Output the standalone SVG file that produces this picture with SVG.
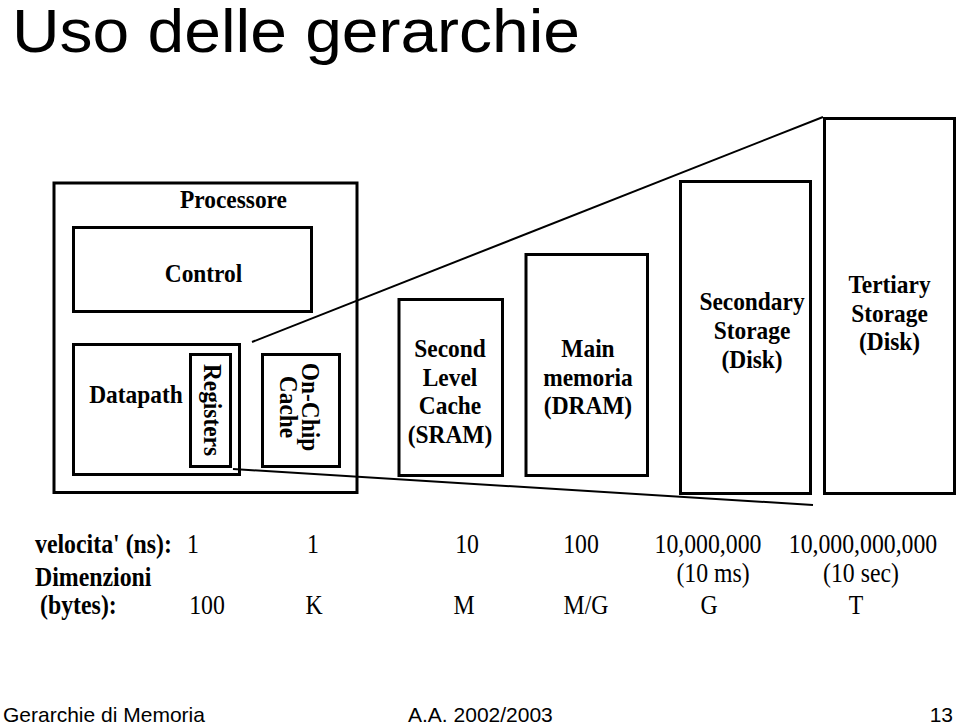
<svg xmlns="http://www.w3.org/2000/svg" width="960" height="725" viewBox="0 0 960 725">
<style>
.box{fill:none;stroke:#000;stroke-width:3}
.ln{stroke:#000;stroke-width:2;fill:none}
.lb{font-family:"Liberation Serif","Times New Roman",serif;font-weight:bold;font-size:26px;fill:#000;text-anchor:middle}
.bb{font-family:"Liberation Serif","Times New Roman",serif;font-weight:bold;font-size:26.5px;fill:#000}
.nr{font-family:"Liberation Serif","Times New Roman",serif;font-size:27px;fill:#000;text-anchor:middle}
.ar{font-family:"Liberation Sans",Arial,sans-serif;fill:#000}
</style>
<rect width="960" height="725" fill="#fff"/>
<text class="ar" x="12" y="52" font-size="62" textLength="568" lengthAdjust="spacingAndGlyphs">Uso delle gerarchie</text>

<g id="connectors">
<line class="ln" x1="252" y1="342" x2="823" y2="117"/>
<line class="ln" x1="233" y1="469" x2="813" y2="505"/>
</g>

<g id="processore">
<rect class="box" x="54" y="183" width="303" height="309.5"/>
<text class="lb" transform="translate(233.5,208) scale(0.9,1)">Processore</text>
</g>
<g id="control">
<rect class="box" x="73.5" y="227.5" width="238" height="84"/>
<text class="lb" transform="translate(203.5,282) scale(0.9,1)">Control</text>
</g>
<g id="datapath">
<rect class="box" x="73.5" y="344.5" width="166" height="130"/>
<text class="lb" transform="translate(136,403) scale(0.9,1)">Datapath</text>
</g>
<g id="registers">
<rect class="box" x="190.5" y="354.5" width="40" height="112"/>
<text class="lb" transform="translate(203.5,410) rotate(90) scale(0.9,1)">Registers</text>
</g>
<g id="onchip">
<rect class="box" x="262.5" y="354.5" width="77" height="112"/>
<text class="lb" transform="translate(302,407) rotate(90) scale(0.9,1)">On-Chip</text>
<text class="lb" transform="translate(280,407) rotate(90) scale(0.9,1)">Cache</text>
</g>
<g id="second">
<rect class="box" x="399" y="299.5" width="103.5" height="176"/>
<text class="lb" transform="translate(450,357) scale(0.9,1)">Second</text>
<text class="lb" transform="translate(450,385.5) scale(0.9,1)">Level</text>
<text class="lb" transform="translate(450,414) scale(0.9,1)">Cache</text>
<text class="lb" transform="translate(450,442.5) scale(0.9,1)">(SRAM)</text>
</g>
<g id="main">
<rect class="box" x="526" y="254.5" width="121.5" height="221"/>
<text class="lb" transform="translate(588,357) scale(0.9,1)">Main</text>
<text class="lb" transform="translate(588,385.5) scale(0.9,1)">memoria</text>
<text class="lb" transform="translate(588,414) scale(0.9,1)">(DRAM)</text>
</g>
<g id="secondary">
<rect class="box" x="680.5" y="181.5" width="130" height="312"/>
<text class="lb" transform="translate(752,310) scale(0.9,1)">Secondary</text>
<text class="lb" transform="translate(752,339) scale(0.9,1)">Storage</text>
<text class="lb" transform="translate(752,368) scale(0.9,1)">(Disk)</text>
</g>
<g id="tertiary">
<rect class="box" x="824.5" y="118.5" width="130" height="375"/>
<text class="lb" transform="translate(889.5,293) scale(0.9,1)">Tertiary</text>
<text class="lb" transform="translate(889.5,322) scale(0.9,1)">Storage</text>
<text class="lb" transform="translate(889.5,350) scale(0.9,1)">(Disk)</text>
</g>

<g id="table">
<text class="bb" transform="translate(35,553) scale(0.9,1)">velocita' (ns):</text>
<text class="nr" transform="translate(193,553) scale(0.88,1)">1</text>
<text class="nr" transform="translate(313,553) scale(0.88,1)">1</text>
<text class="nr" transform="translate(467,553) scale(0.88,1)">10</text>
<text class="nr" transform="translate(581,553) scale(0.88,1)">100</text>
<text class="nr" transform="translate(708,553) scale(0.88,1)">10,000,000</text>
<text class="nr" transform="translate(863,553) scale(0.88,1)">10,000,000,000</text>
<text class="nr" transform="translate(713,582) scale(0.88,1)">(10 ms)</text>
<text class="nr" transform="translate(861,582) scale(0.88,1)">(10 sec)</text>
<text class="bb" transform="translate(35,586) scale(0.9,1)">Dimenzioni</text>
<text class="bb" transform="translate(40,614) scale(0.9,1)">(bytes):</text>
<text class="nr" transform="translate(207,614) scale(0.88,1)">100</text>
<text class="nr" transform="translate(314,614) scale(0.88,1)">K</text>
<text class="nr" transform="translate(464,614) scale(0.88,1)">M</text>
<text class="nr" transform="translate(586,614) scale(0.88,1)">M/G</text>
<text class="nr" transform="translate(709,614) scale(0.88,1)">G</text>
<text class="nr" transform="translate(856,614) scale(0.88,1)">T</text>
</g>

<text class="ar" x="3" y="722" font-size="21">Gerarchie di Memoria</text>
<text class="ar" x="408" y="722" font-size="21">A.A. 2002/2003</text>
<text class="ar" x="953" y="722" font-size="21" text-anchor="end">13</text>
</svg>
